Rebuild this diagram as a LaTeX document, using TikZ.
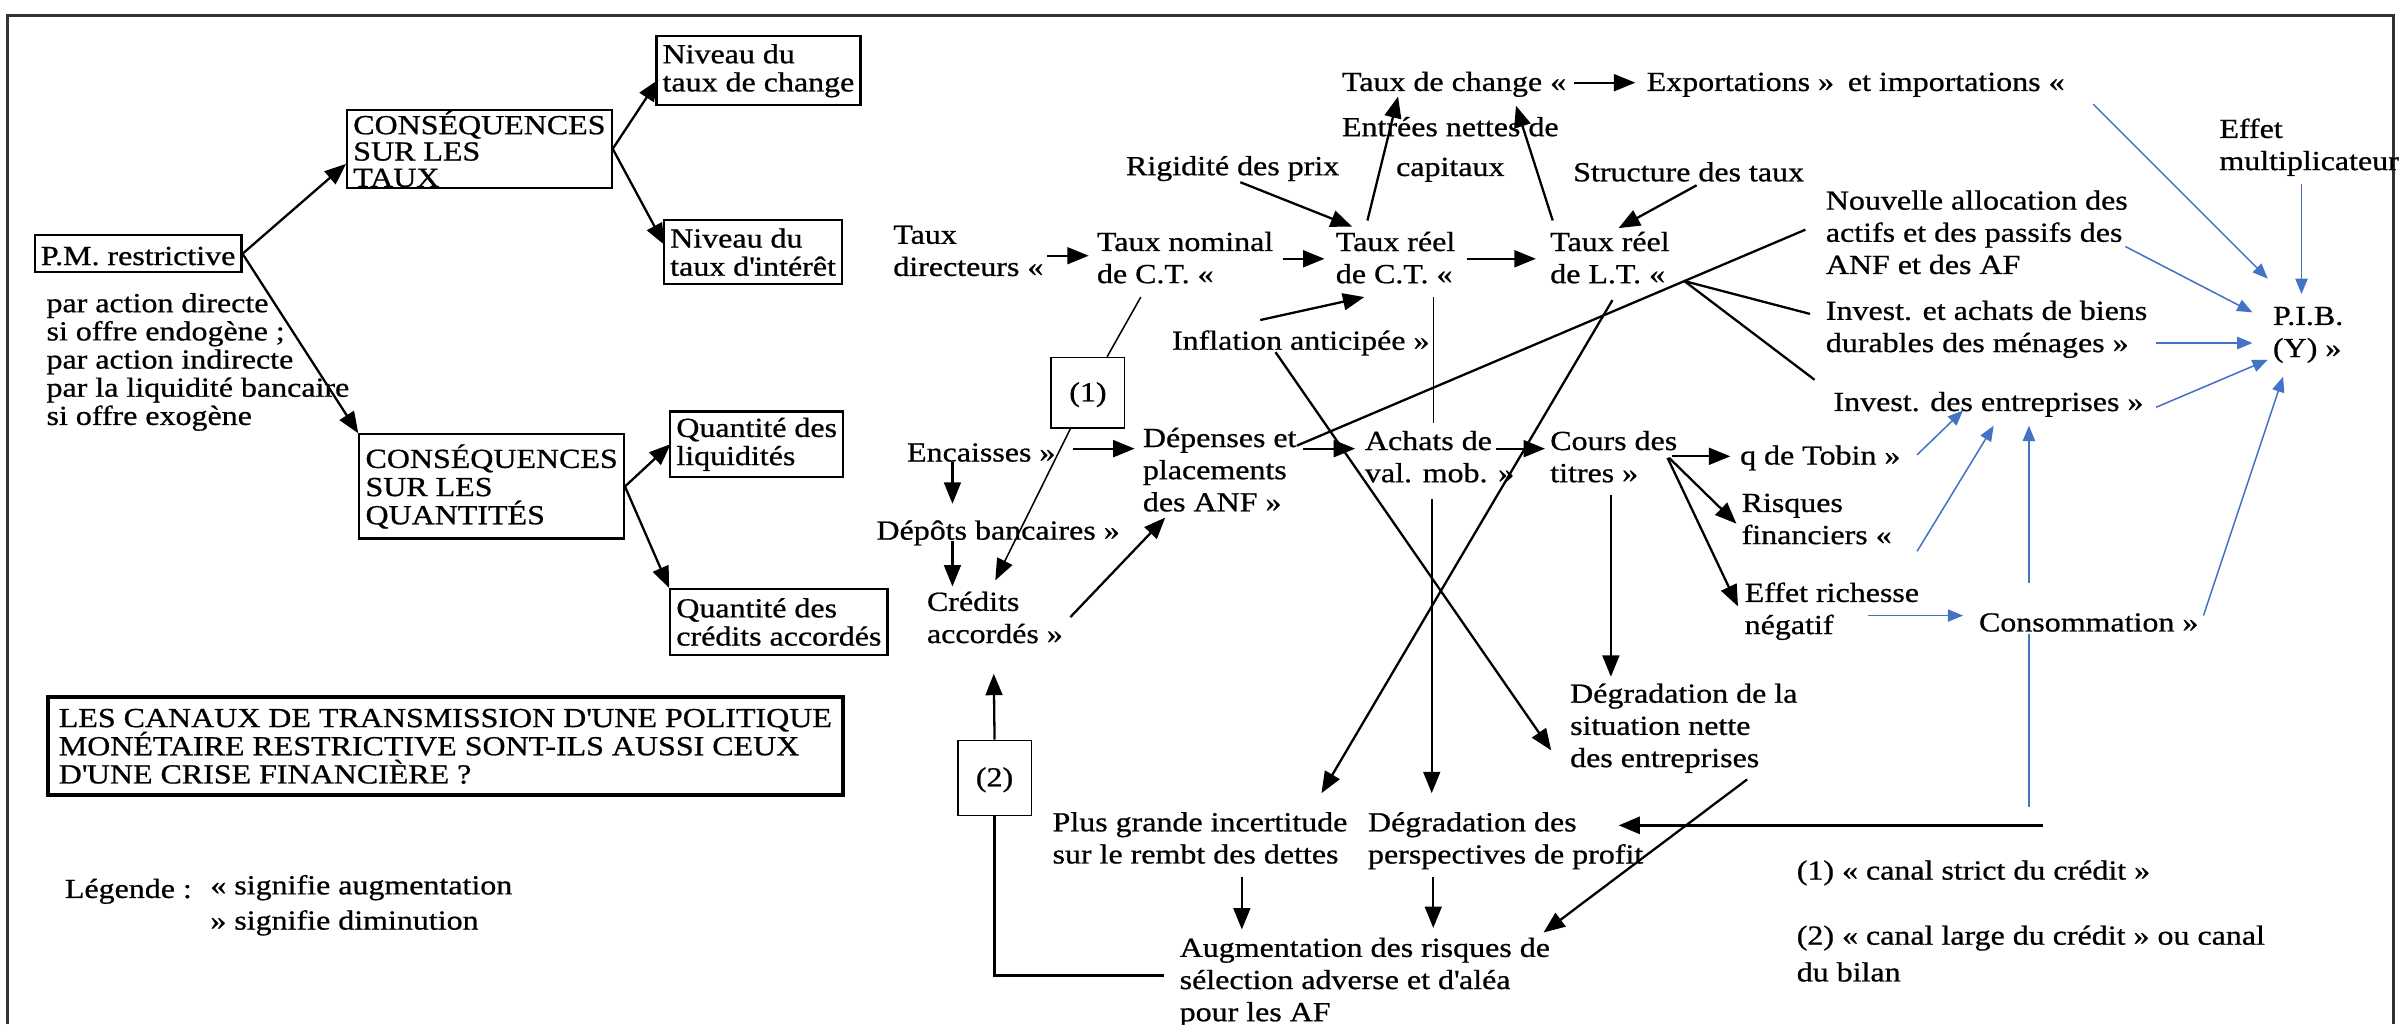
\documentclass[tikz,border=0pt]{standalone}
\usepackage{fontspec}
\setmainfont{Liberation Serif}[FakeStretch=1.16,FakeBold=0.8]
\usetikzlibrary{arrows.meta,calc}

\newcommand\ft{\fontsize{9pt}{10.5pt}\selectfont}
\newcommand\fb{\fontsize{9pt}{9.2pt}\selectfont}
\newcommand\lig{\rule{0pt}{7.5pt}}
\newcommand\apos{\textquotesingle}
\definecolor{bleuword}{RGB}{68,114,196}

\tikzset{
  boite/.style={draw, line width=0.7pt, anchor=north west, inner xsep=2pt, inner ysep=0pt, align=left, font=\fb, execute at begin node=\lig},
  texte/.style={anchor=north west, inner sep=0pt, align=left, font=\ft, execute at begin node=\lig},
  fleche/.style={line width=0.75pt, -{Triangle[length=7pt,width=5.5pt]}},
  trait/.style={line width=0.75pt},
  fbleue/.style={draw=bleuword, line width=0.5pt, -{Triangle[length=5pt,width=4pt]}},
}

\begin{document}
\begin{tikzpicture}[x=0.5pt,y=0.5pt,yscale=-1]
\useasboundingbox (0,0) rectangle (1568,669);

%Frame
\draw [line width=1pt, black!80] (5,669) -- (5,10) -- (1563,10) -- (1563,669) ;

%Boxes
\node [boite, minimum height=12pt] (pm) at (22,153) {P.M. restrictive};
\node [boite, minimum height=25.5pt, font=\fontsize{9pt}{8.6pt}\selectfont, execute at begin node=\rule{0pt}{9.5pt}] (cstaux) at (226,71) {CONSÉQUENCES\\SUR LES\\TAUX};
\node [boite, minimum height=22.5pt] (nchange) at (428,23) {Niveau du\\taux de change};
\node [boite, minimum height=21pt] (ninteret) at (433,143) {Niveau du\\taux d\apos intérêt};
\node [boite, minimum height=34pt] (csquant) at (234,283) {CONSÉQUENCES\\SUR LES\\QUANTITÉS};
\node [boite, minimum height=21.5pt] (qliq) at (437,268) {Quantité des\\liquidités};
\node [boite, minimum height=21.5pt] (qcred) at (437,384) {Quantité des\\crédits accordés};
\node [boite, line width=1.4pt, inner xsep=3.5pt, minimum height=32pt] (titre) at (30,454) {LES CANAUX DE TRANSMISSION D\apos UNE POLITIQUE\\MONÉTAIRE RESTRICTIVE SONT-ILS AUSSI CEUX\\D\apos UNE CRISE FINANCIÈRE ?};
\node [boite, line width=0.5pt, align=center, minimum width=24pt, minimum height=23pt] (un) at (686,233) {(1)};
\node [boite, line width=0.5pt, align=center, minimum width=24pt, minimum height=24.5pt] (deux) at (625,483) {(2)};

% Text Node
\node [texte, font=\fb] (pmtxt) at (30,191) {par action directe\\si offre endogène ;\\par action indirecte\\par la liquidité bancaire\\si offre exogène};
\node [texte] (tdir) at (583,147) {Taux\\directeurs «};
\node [texte] (tnom) at (716,151) {Taux nominal\\de C.T. «};
\node [texte] (trct) at (872,151) {Taux réel\\de C.T. «};
\node [texte] (trlt) at (1012,151) {Taux réel\\de L.T. «};
\node [texte] (tchange) at (876,44) {Taux de change «};
\node [texte] (export) at (1075,44) {Exportations »\enspace et importations «};
\node [texte, align=center] (entrees) at (876,76) {Entrées nettes de\\[2.5pt]capitaux};
\node [texte] (rigid) at (735,99) {Rigidité des prix};
\node [texte] (struct) at (1027,103) {Structure des taux};
\node [texte] (infl) at (765,213) {Inflation anticipée »};
\node [texte] (encaisses) at (592,286) {Encaisses »};
\node [texte] (depenses) at (746,279) {Dépenses et\\placements\\des ANF »};
\node [texte] (depots) at (572,337) {Dépôts bancaires »};
\node [texte] (credits) at (605,386) {Crédits\\accordés »};
\node [texte] (achats) at (891,281) {Achats de\\val. mob. »};
\node [texte] (cours) at (1012,281) {Cours des\\titres »};
\node [texte] (tobin) at (1136,288) {q de Tobin »};
\node [texte] (risques) at (1137,322) {Risques\\financiers «};
\node [texte] (richesse) at (1139,380) {Effet richesse\\négatif};
\node [texte] (conso) at (1292,397) {Consommation »};
\node [texte] (nouvelle) at (1192,124) {Nouvelle allocation des\\actifs et des passifs des\\ANF et des AF};
\node [texte] (durables) at (1192,196) {Invest. et achats de biens\\durables des ménages »};
\node [texte] (investent) at (1197,253) {Invest. des entreprises »};
\node [texte] (pib) at (1484,200) {P.I.B.\\(Y) »};
\node [texte] (multip) at (1449,77) {Effet\\multiplicateur};
\node [texte] (incert) at (687,530) {Plus grande incertitude\\sur le rembt des dettes};
\node [texte] (degprof) at (893,530) {Dégradation des\\perspectives de profit};
\node [texte] (degsit) at (1025,446) {Dégradation de la\\situation nette\\des entreprises};
\node [texte] (augm) at (770,612) {Augmentation des risques de\\sélection adverse et d\apos aléa\\pour les AF};
\node [texte] (leg1) at (1173,559) {(1) « canal strict du crédit »};
\node [texte] (leg2) at (1173,604) {(2) « canal large du crédit » ou canal\\[1.5pt]du bilan};
\node [texte] (legende) at (42,571) {Légende :};
\node [texte] (legsign) at (137,571) {« signifie augmentation\\[1pt]» signifie diminution};

%Straight Lines
\draw [fleche] (pm.east) -- ($(cstaux.north west)+(0,36)$) ;
\draw [fleche] (pm.east) -- (csquant.north west) ;
\draw [fleche] (cstaux.east) -- ($(nchange.north west)+(2,29)$) ;
\draw [fleche] (cstaux.east) -- ($(ninteret.north west)+(1,17)$) ;
\draw [fleche] (csquant.east) -- ($(qliq.north west)+(1,22)$) ;
\draw [fleche] (csquant.east) -- (qcred.north west) ;

\draw [fleche] ($(tdir.north west)+(101,20)$) -- ($(tnom.north west)+(-5,16)$) ;
\draw [fleche] ($(tnom.north west)+(122,18)$) -- ($(trct.north west)+(-7,18)$) ;
\draw [fleche] ($(trct.north west)+(86,18)$) -- ($(trlt.north west)+(-9,18)$) ;
\draw [fleche] ($(tchange.north west)+(152,10)$) -- ($(export.north west)+(-7,10)$) ;
\draw [fleche] ($(trct.north west)+(21,-7)$) -- ($(tchange.north west)+(37,19)$) ;
\draw [fleche] ($(trlt.north west)+(2,-7)$) -- ($(tchange.north west)+(114,25)$) ;
\draw [fleche] ($(rigid.north west)+(75,20)$) -- ($(trct.north west)+(11,-3)$) ;
\draw [fleche] ($(struct.north west)+(81,18)$) -- ($(trlt.north west)+(45,-2)$) ;
\draw [fleche] ($(infl.north west)+(58,-4)$) -- ($(trct.north west)+(19,43)$) ;
\draw [trait, line width=0.5pt] ($(tnom.north west)+(29,43)$) -- ($(un.north west)+(37,0)$) ;
\draw [fleche, line width=0.5pt] ($(un.south west)+(13,0)$) -- ($(credits.north west)+(45,-7)$) ;

\draw [fleche] ($(encaisses.north west)+(109,7)$) -- ($(depenses.north west)+(-5,14)$) ;
\draw [fleche] ($(encaisses.north west)+(30,16)$) -- ($(depots.north west)+(50,-8)$) ;
\draw [fleche] ($(depots.north west)+(50,16)$) -- ($(credits.north west)+(17,-3)$) ;
\draw [fleche] ($(credits.north west)+(94,17)$) -- ($(depenses.north west)+(15,59)$) ;
\draw [fleche] (deux.north) -- ($(credits.north west)+(44,54)$) ;
\draw [trait] (deux.south) |- ($(augm.north west)+(-10,25)$) ;
\draw [fleche] ($(depenses.north west)+(105,14)$) -- ($(achats.north west)+(-6,12)$) ;
\draw [fleche] ($(achats.north west)+(86,12)$) -- ($(cours.north west)+(-3,12)$) ;
\draw [fleche] ($(cours.north west)+(80,17)$) -- ($(tobin.north west)+(-6,10)$) ;
\draw [fleche] ($(cours.north west)+(78,18)$) -- ($(risques.north west)+(-3,20)$) ;
\draw [fleche] ($(cours.north west)+(77,18)$) -- ($(richesse.north west)+(-4,16)$) ;
\draw [fleche] ($(cours.north west)+(40,42)$) -- ($(degsit.north west)+(27,-4)$) ;
\draw [trait, line width=0.5pt] ($(trct.north west)+(64,43)$) -- ($(achats.north west)+(45,-5)$) ;
\draw [fleche] ($(achats.north west)+(44,45)$) -- ($(degprof.north west)+(42,-12)$) ;
\draw [fleche] ($(infl.north west)+(68,17)$) -- ($(degsit.north west)+(-12,44)$) ;
\draw [fleche] ($(trlt.north west)+(41,45)$) -- ($(incert.north west)+(176,-12)$) ;

\coordinate (depd) at ($(depenses.north west)+(101,12)$);
\coordinate (nouvg) at ($(nouvelle.north west)+(-13,26)$);
\coordinate (noeudlt) at ($(depd)!0.762!(nouvg)$);
\draw [trait] (depd) -- (nouvg) ;
\draw [trait] (noeudlt) -- ($(durables.north west)+(-10,9)$) ;
\draw [trait] (noeudlt) -- ($(investent.north west)+(-12,-5)$) ;

\draw [fleche] ($(degsit.north west)+(116,63)$) -- ($(augm.north west)+(238,-3)$) ;
\draw [fleche] ($(incert.north west)+(124,43)$) -- ($(augm.north west)+(41,-5)$) ;
\draw [fleche] ($(degprof.north west)+(43,43)$) -- ($(augm.north west)+(166,-6)$) ;
\draw [fleche, line width=1.2pt] ($(conso.north west)+(42,142)$) -- ($(degprof.north west)+(164,9)$) ;

%Blue Lines
\draw [fbleue] ($(export.north west)+(292,24)$) -- ($(pib.north west)+(-3,-18)$) ;
\draw [fbleue] ($(multip.north west)+(54,43)$) -- ($(pib.north west)+(19,-8)$) ;
\draw [fbleue] ($(nouvelle.north west)+(196,37)$) -- ($(pib.north west)+(-13,4)$) ;
\draw [fbleue] ($(durables.north west)+(216,28)$) -- ($(pib.north west)+(-13,24)$) ;
\draw [fbleue] ($(investent.north west)+(211,13)$) -- ($(pib.north west)+(-3,35)$) ;
\draw [fbleue] ($(conso.north west)+(147,5)$) -- ($(pib.north west)+(7,46)$) ;
\draw [fbleue] ($(tobin.north west)+(116,9)$) -- ($(investent.north west)+(85,15)$) ;
\draw [fbleue] ($(risques.north west)+(115,38)$) -- ($(investent.north west)+(105,25)$) ;
\draw [fbleue] ($(conso.north west)+(33,-16)$) -- ($(investent.north west)+(128,25)$) ;
\draw [fbleue] ($(richesse.north west)+(81,22)$) -- ($(conso.north west)+(-10,5)$) ;
\draw [bleuword, line width=0.5pt] ($(conso.north west)+(33,17)$) -- ($(conso.north west)+(33,130)$) ;

\end{tikzpicture}
\end{document}
